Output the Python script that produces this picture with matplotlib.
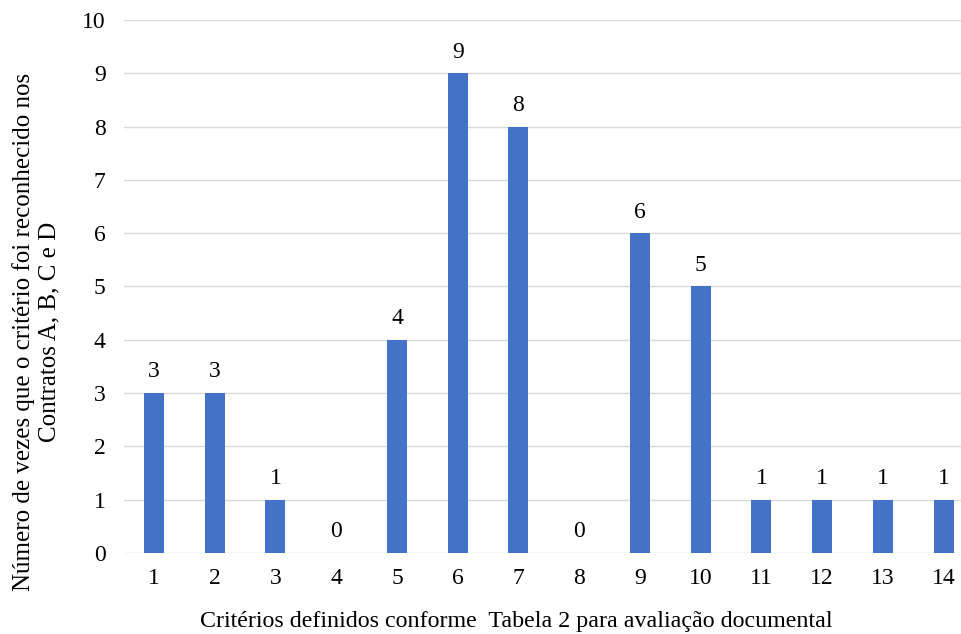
import numpy as np
import matplotlib.pyplot as plt

plt.rcParams['font.family'] = ['Liberation Serif', 'DejaVu Serif']

# Dados
criterios = [str(i) for i in range(1, 15)]
contagens = [3, 3, 1, 0, 4, 9, 8, 0, 6, 5, 1, 1, 1, 1]

fig = plt.figure(figsize=(9.61, 6.34), dpi=100)
ax = fig.add_axes([0.1286, 0.1278, 0.885, 0.8407])

x = np.arange(len(criterios))
ax.bar(x, contagens, width=0.33, color='#4472C4', zorder=3)

for xi, v in zip(x, contagens):
    ax.text(xi, v + 0.2, str(v), ha='center', va='bottom', fontsize=17, color='#000000')

ax.set_xlim(-0.5, len(criterios) - 0.5)
ax.set_ylim(0, 10)
ax.set_yticks(range(0, 11))
ax.set_xticks(x)
ax.set_xticklabels(criterios)
ax.grid(axis='y', color='#D9D9D9', linewidth=1, zorder=0)
for s in ax.spines.values():
    s.set_visible(False)
ax.tick_params(length=0, labelsize=17)
ax.tick_params(axis='x', pad=11)
ax.tick_params(axis='y', pad=13)

ax.set_xlabel('Critérios definidos conforme  Tabela 2 para avaliação documental', fontsize=17.3)
ax.set_ylabel('Número de vezes que o critério foi reconhecido nos\nContratos A, B, C e D', fontsize=18)
ax.xaxis.set_label_coords(0.462, -0.108)
ax.yaxis.set_label_coords(-0.074, 0.415)

fig.savefig('out.png', dpi=100)
